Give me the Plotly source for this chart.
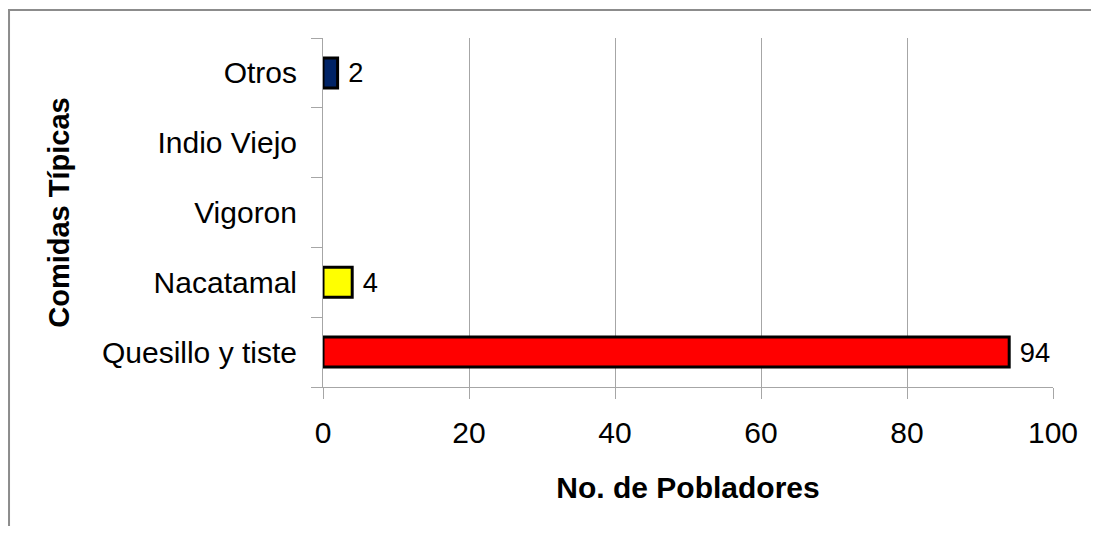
import plotly.graph_objects as go

##########################################
# 1. Data
##########################################
comidas = ["Quesillo y tiste", "Nacatamal", "Vigoron", "Indio Viejo", "Otros"]
pobladores = [94, 4, 0, 0, 2]
colores = ["#FF0000", "#FFFF00", "#FFFFFF", "#FFFFFF", "#002366"]
x_ticks = [0, 20, 40, 60, 80, 100]

# only show a label / outline where there is a bar
etiquetas = [f" {v}" if v else "" for v in pobladores]
bordes = [3 if v else 0 for v in pobladores]

##########################################
# 2. Plot
##########################################
fig = go.Figure(go.Bar(
    x=pobladores,
    y=comidas,
    orientation="h",
    width=0.43,
    marker=dict(color=colores, line=dict(color="black", width=bordes)),
    text=etiquetas,
    textposition="outside",
    cliponaxis=False,
    textfont=dict(family="Liberation Sans, Arial", size=30, color="black"),
))

# page body has an 8px margin, so the figure is 16px smaller than the window
fig.update_layout(
    width=1083, height=518,
    margin=dict(l=315, r=38, t=30, b=139),
    plot_bgcolor="white", paper_bgcolor="white",
    font=dict(family="Liberation Sans, Arial", size=30, color="black"),
    showlegend=False,
    shapes=[dict(type="rect", xref="paper", yref="paper",
                 x0=-0.4301, x1=1.2, y0=-0.6, y1=1.0802,
                 line=dict(color="#8c8c8c", width=2), layer="below")],
)

fig.update_xaxes(
    range=[0, 100], tickvals=x_ticks,
    showgrid=True, gridcolor="#a6a6a6", gridwidth=1,
    showline=True, linecolor="#a6a6a6", linewidth=1,
    ticks="outside", ticklen=11, tickcolor="#a6a6a6",
    ticklabelstandoff=8,
    zeroline=False,
    tickfont=dict(size=30),
    title=dict(text="<b>No. de Pobladores</b>", font=dict(size=30), standoff=28),
)

fig.update_yaxes(
    showgrid=False,
    showline=True, linecolor="#a6a6a6", linewidth=1,
    ticks="outside", ticklen=11, tickcolor="#a6a6a6",
    tickson="boundaries",
    ticklabelstandoff=19,
    tickfont=dict(size=30),
    title=dict(text="<b>Comidas Típicas</b>", font=dict(size=29), standoff=23),
)

fig.write_html("out.html")
